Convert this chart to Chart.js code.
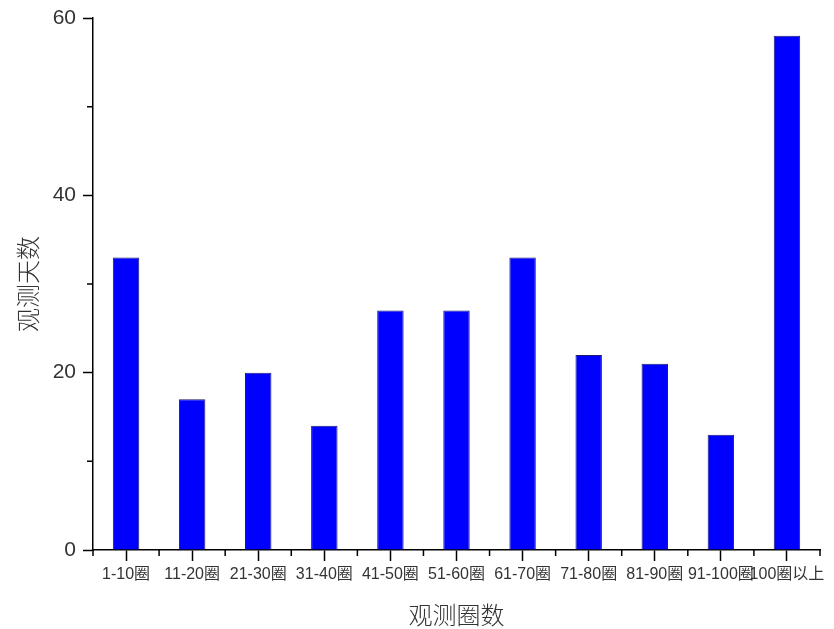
<!DOCTYPE html>
<html>
<head>
<meta charset="utf-8">
<script src="https://cdn.jsdelivr.net/npm/chart.js@4/dist/chart.umd.min.js"></script>
<style>
html,body{margin:0;padding:0;background:#fff;}
#wrap{width:834px;height:629px;}
</style>
</head>
<body>
<div id="wrap"><canvas id="c" width="834" height="629"></canvas></div>
<script>
const categories = ["1-10圈","11-20圈","21-30圈","31-40圈","41-50圈","51-60圈","61-70圈","71-80圈","81-90圈","91-100圈","100圈以上"];
const observedDays = [33,17,20,14,27,27,33,22,21,13,58];
const yMajorTicks = [0,20,40,60];
const yMinorTicks = [10,30,50];
const xTitle = "观测圈数";
const yTitle = "观测天数";

const minorTicks = {
  id: 'minorTicks',
  afterDraw(chart) {
    const ctx = chart.ctx;
    const xs = chart.scales.x, ys = chart.scales.y;
    ctx.save();
    ctx.strokeStyle = '#000';
    ctx.lineWidth = 1.5;
    ctx.beginPath();
    for (let i = 0; i <= categories.length; i++) {
      const px = xs.getPixelForValue(i - 0.5);
      ctx.moveTo(px, xs.top);
      ctx.lineTo(px, xs.top + 6);
    }
    yMinorTicks.forEach(v => {
      const py = ys.getPixelForValue(v);
      ctx.moveTo(ys.right, py);
      ctx.lineTo(ys.right - 6, py);
    });
    ctx.stroke();
    ctx.restore();
  }
};

new Chart(document.getElementById('c'), {
  type: 'bar',
  data: {
    labels: categories,
    datasets: [{
      data: observedDays,
      backgroundColor: '#0000ff',
      borderColor: '#1a1a70',
      borderWidth: 1,
      categoryPercentage: 1,
      barPercentage: 0.4
    }]
  },
  options: {
    responsive: false,
    animation: false,
    layout: { padding: { top: 18, right: 14, left: 0, bottom: 0 } },
    plugins: { legend: { display: false }, tooltip: { enabled: false } },
    scales: {
      x: {
        offset: true,
        grid: { display: true, offset: false, drawOnChartArea: false, tickLength: 11, color: '#000', tickWidth: 1.5 },
        border: { display: true, color: '#000', width: 1.5 },
        ticks: { color: '#333', font: { family: 'Liberation Sans, Arial, "Noto Sans CJK SC"', size: 16 }, maxRotation: 0, autoSkip: false, padding: 4 },
        title: { display: true, text: xTitle, color: '#333', font: { family: '"Noto Sans CJK SC"', size: 24, weight: 300 }, padding: { top: 6, bottom: 0 } },
        afterFit(s) { s.height = 79; }
      },
      y: {
        min: 0, max: 60,
        afterBuildTicks(s) { s.ticks = yMajorTicks.map(v => ({ value: v })); },
        grid: { display: true, drawOnChartArea: false, tickLength: 10, color: '#000', tickWidth: 1.5 },
        border: { display: true, color: '#000', width: 1.5 },
        ticks: { color: '#333', font: { family: 'Liberation Sans, Arial', size: 21, lineHeight: 1 }, padding: 7 },
        title: { display: true, text: yTitle, color: '#333', font: { family: '"Noto Sans CJK SC"', size: 24, weight: 300 }, padding: { top: 13, bottom: 0 } },
        afterFit(s) { s.width = 93; }
      }
    }
  },
  plugins: [minorTicks]
});
</script>
</body>
</html>
